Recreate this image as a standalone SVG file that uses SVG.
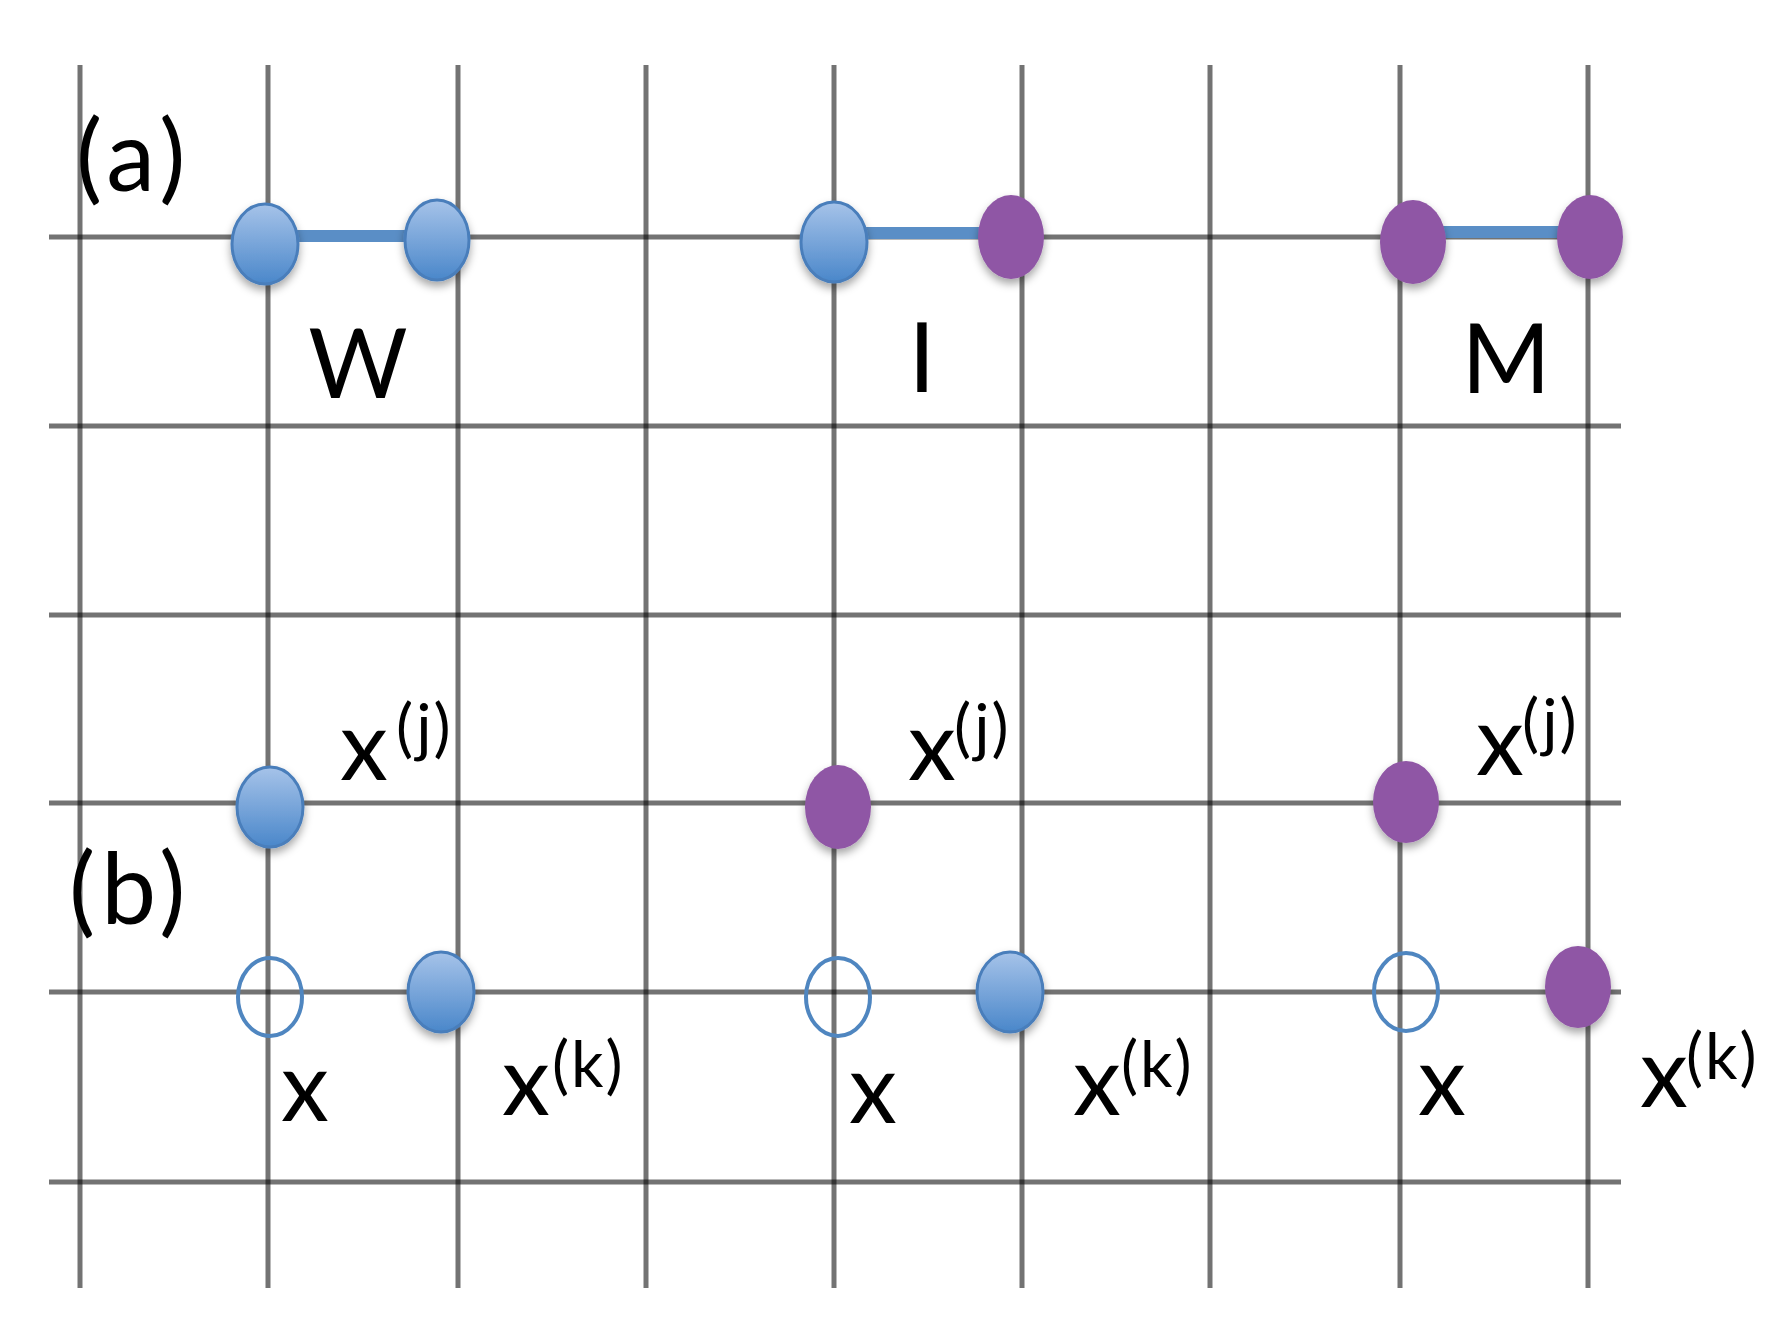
<svg xmlns="http://www.w3.org/2000/svg" width="1787" height="1336" viewBox="0 0 1787 1336">
<style>
.grid line{stroke:#000;stroke-opacity:0.55;stroke-width:5}
.blue{fill:url(#bg);stroke:#4a7ebb;stroke-width:3;filter:url(#sh)}
.purple{fill:#8f56a5;filter:url(#sh)}
.open{fill:none;stroke:#4f86c0;stroke-width:4}
.conn line{stroke:#5a8ec6;stroke-width:12}
text{font-family:Lato,"Open Sans","Liberation Sans",sans-serif;fill:#000}
.big{font-size:96px}
.lbl{font-size:98px;letter-spacing:6px}
.sup{font-size:64px;letter-spacing:2px}
</style>
<defs>
<linearGradient id="bg" x1="0" y1="0" x2="0" y2="1">
<stop offset="0" stop-color="#a6c3e9"/>
<stop offset="1" stop-color="#4a87ca"/>
</linearGradient>
<filter id="sh" x="-50%" y="-50%" width="200%" height="200%">
<feDropShadow dx="0" dy="5" stdDeviation="4" flood-color="#000" flood-opacity="0.35"/>
</filter>
</defs>
<rect width="1787" height="1336" fill="#fff"/>
<g class="grid" id="grid">
<line x1="80" y1="65" x2="80" y2="1288"/>
<line x1="268" y1="65" x2="268" y2="1288"/>
<line x1="458" y1="65" x2="458" y2="1288"/>
<line x1="646" y1="65" x2="646" y2="1288"/>
<line x1="834" y1="65" x2="834" y2="1288"/>
<line x1="1022" y1="65" x2="1022" y2="1288"/>
<line x1="1210" y1="65" x2="1210" y2="1288"/>
<line x1="1400" y1="65" x2="1400" y2="1288"/>
<line x1="1588" y1="65" x2="1588" y2="1288"/>
<line x1="49" y1="237" x2="1621" y2="237"/>
<line x1="49" y1="426" x2="1621" y2="426"/>
<line x1="49" y1="615" x2="1621" y2="615"/>
<line x1="49" y1="803" x2="1621" y2="803"/>
<line x1="49" y1="992" x2="1621" y2="992"/>
<line x1="49" y1="1182" x2="1621" y2="1182"/>
</g>
<g class="conn" id="connectors">
<line x1="290" y1="236" x2="415" y2="236"/>
<line x1="860" y1="233" x2="990" y2="233"/>
<line x1="1440" y1="232" x2="1570" y2="232"/>
</g>
<g id="node-w1"><ellipse class="blue" cx="265" cy="244" rx="33" ry="40"/></g>
<g id="node-w2"><ellipse class="blue" cx="437" cy="240" rx="32" ry="40"/></g>
<g id="node-i1"><ellipse class="blue" cx="834" cy="242" rx="33" ry="40"/></g>
<g id="node-i2"><ellipse class="purple" cx="1011" cy="237" rx="33" ry="42"/></g>
<g id="node-m1"><ellipse class="purple" cx="1413" cy="242" rx="33" ry="42"/></g>
<g id="node-m2"><ellipse class="purple" cx="1590" cy="237" rx="33" ry="42"/></g>
<g id="node-b1j"><ellipse class="blue" cx="270" cy="807" rx="33" ry="40"/></g>
<g id="node-b1x"><ellipse class="open" cx="270" cy="997" rx="32" ry="39"/></g>
<g id="node-b1k"><ellipse class="blue" cx="441" cy="992" rx="33" ry="40"/></g>
<g id="node-b2j"><ellipse class="purple" cx="838" cy="807" rx="33" ry="42"/></g>
<g id="node-b2x"><ellipse class="open" cx="838" cy="997" rx="32" ry="39"/></g>
<g id="node-b2k"><ellipse class="blue" cx="1010" cy="992" rx="33" ry="40"/></g>
<g id="node-b3j"><ellipse class="purple" cx="1406" cy="802" rx="33" ry="41"/></g>
<g id="node-b3x"><ellipse class="open" cx="1406" cy="992" rx="32" ry="39"/></g>
<g id="node-b3k"><ellipse class="purple" cx="1578" cy="987" rx="33" ry="41"/></g>
<g id="labels">
<text class="lbl" x="76" y="191">(a)</text>
<text class="lbl" x="69" y="924">(b)</text>
<text class="big" x="358" y="398" text-anchor="middle">W</text>
<text class="big" x="922" y="392" text-anchor="middle">I</text>
<text class="big" x="1506" y="393" text-anchor="middle">M</text>
<text class="big" x="340" y="780">x</text><text class="sup" x="396" y="750">(j)</text>
<text class="big" x="908" y="780">x</text><text class="sup" x="954" y="750">(j)</text>
<text class="big" x="1476" y="775">x</text><text class="sup" x="1522" y="745">(j)</text>
<text class="big" x="281" y="1121">x</text>
<text class="big" x="849" y="1123">x</text>
<text class="big" x="1418" y="1115">x</text>
<text class="big" x="502" y="1115">x</text><text class="sup" x="552" y="1087">(k)</text>
<text class="big" x="1073" y="1115">x</text><text class="sup" x="1121" y="1087">(k)</text>
<text class="big" x="1640" y="1107">x</text><text class="sup" x="1686" y="1079">(k)</text>
</g>
</svg>
